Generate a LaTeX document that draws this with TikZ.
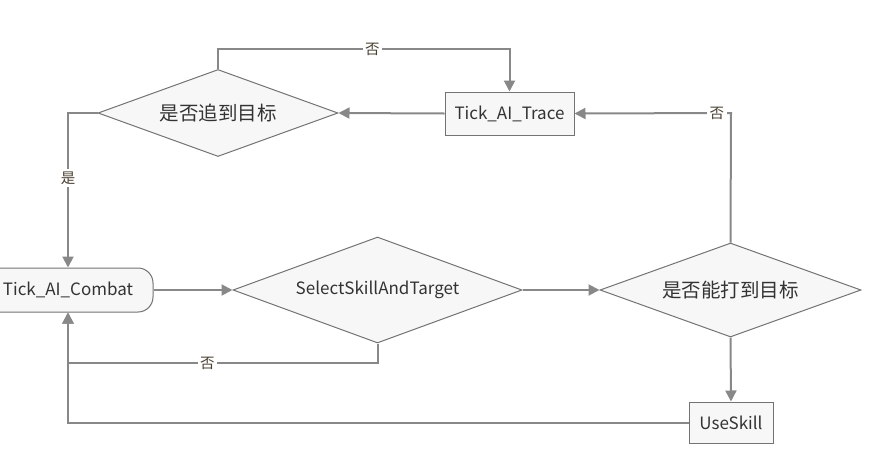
\documentclass[tikz,border=0pt]{standalone}
\usepackage{fontspec}
\setmainfont{Noto Sans CJK SC}
\usetikzlibrary{shapes.geometric,arrows.meta}
\definecolor{lnc}{HTML}{888888}
\definecolor{bdc}{HTML}{737373}
\definecolor{fillc}{HTML}{F7F7F7}
\definecolor{txc}{HTML}{333333}
\definecolor{lbc}{HTML}{4A4030}
\tikzset{
  base/.style={draw=bdc, fill=fillc, line width=1pt, text=txc, font=\fontsize{17}{20}\selectfont, inner sep=0pt},
  decision/.style={base, diamond, aspect=2},
  cjkdecision/.style={decision, font=\fontsize{19.5}{22}\selectfont},
  procbox/.style={base, rectangle},
  termbox/.style={base, rectangle, rounded corners=15pt},
  conn/.style={draw=lnc, line width=2pt},
  arr/.style={conn, -{Triangle[length=11pt,width=11pt]}},
  lbl/.style={fill=white, text=lbc, font=\fontsize{14.5}{16}\selectfont, inner sep=2.5pt}
}
\begin{document}
\begin{tikzpicture}[x=1pt,y=-1pt]
\useasboundingbox (0,0) rectangle (887,472);
\clip (0,0) rectangle (887,472);
% nodes
\node[cjkdecision, minimum width=240pt, minimum height=87pt] (d1) at (218,113) {是否追到目标};
\node[procbox, minimum width=129pt, minimum height=43pt] (trace) at (509.5,113.5) {Tick\_AI\_Trace};
\node[termbox, minimum width=170pt, minimum height=44pt] (combat) at (68,290) {Tick\_AI\_Combat};
\node[decision, minimum width=289pt, minimum height=106pt] (d2) at (377.5,290) {SelectSkillAndTarget};
\node[cjkdecision, minimum width=261pt, minimum height=94pt] (d3) at (730.5,290) {是否能打到目标};
\node[procbox, minimum width=84pt, minimum height=41pt] (use) at (731,422.5) {UseSkill};
% helper coordinates
\coordinate (c1a) at (218,49);
\coordinate (c1b) at (509.5,49);
\coordinate (c2a) at (731,113);
\coordinate (c3a) at (68,113);
\coordinate (c4a) at (377.5,363);
\coordinate (c4b) at (68,363);
\coordinate (c5a) at (68,422.5);
% connectors
\draw[arr] (d1.north) -- (c1a) -- node[lbl, pos=0.53]{否} (c1b) -- (trace.north);
\draw[arr] (trace.west) -- (d1.east);
\draw[arr] (d3.north) -- (c2a) -- node[lbl, pos=0.09]{否} (trace.east);
\draw[arr] (d1.west) -- (c3a) -- node[lbl, pos=0.42]{是} (combat.north);
\draw[arr] (combat.east) -- (d2.west);
\draw[arr] (d2.east) -- (d3.west);
\draw[arr] (d3.south) -- (use.north);
\draw[arr] (d2.south) -- (c4a) -- node[lbl, pos=0.55]{否} (c4b) -- (combat.south);
\draw[arr] (use.west) -- (c5a) -- (combat.south);
\end{tikzpicture}
\end{document}
